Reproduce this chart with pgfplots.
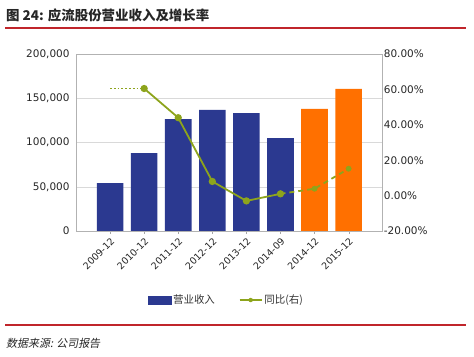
\documentclass[border=0pt]{standalone}
\usepackage{pgfplots}
\pgfplotsset{compat=1.18}
\usepackage{fontspec}
\setmainfont{DejaVu Sans}
\newfontfamily\cjk{Noto Sans CJK SC}
\newfontfamily\cjkit[FakeSlant=0.2]{Noto Sans CJK SC}
\definecolor{navy}{HTML}{2B3990}
\definecolor{orng}{HTML}{FF7000}
\definecolor{olive}{HTML}{8DA41C}
\definecolor{redline}{HTML}{C0252B}
\begin{document}
\begin{tikzpicture}
\path[use as bounding box] (0bp,0bp) rectangle (474bp,357bp);
\draw[redline, line width=1.2bp] (5bp,329bp) -- (466bp,329bp);
\node[anchor=west, inner sep=0pt, font=\cjk\bfseries\fontsize{13.5}{15}\selectfont, text=black!85] at (6bp,342bp) {图 24: 应流股份营业收入及增长率};
\draw[redline, line width=1.2bp] (5bp,32bp) -- (466bp,32bp);
\node[anchor=west, inner sep=0pt, font=\cjkit\fontsize{11}{13}\selectfont, text=black!85] at (6bp,14bp) {数据来源: 公司报告};

\begin{axis}[
  at={(76bp,126bp)}, anchor=south west, scale only axis,
  width=306.7bp, height=177bp,
  xmin=-1, xmax=8, ymin=0, ymax=200000,
  xtick={0,...,7},
  xticklabels={2009-12,2010-12,2011-12,2012-12,2013-12,2014-09,2014-12,2015-12},
  xticklabel style={rotate=45, anchor=north east, font=\fontsize{9.5}{10}\selectfont, text=black!85, inner sep=2bp},
  ytick={0,50000,100000,150000,200000},
  yticklabels={0,{50,000},{100,000},{150,000},{200,000}},
  yticklabel style={font=\fontsize{10.5}{12}\selectfont, text=black!85},
  scaled y ticks=false,
  ymajorgrids, grid style={gray!30},
  axis line style={gray!60},
  tick style={gray!70}, tick align=outside, major tick length=3bp,
  ytick style={draw=none},
  xtick pos=bottom,
  ybar, bar width=0.78, bar shift=0pt,
]
\addplot[fill=navy, draw=none] coordinates {(0,54000)(1,87900)(2,126400)(3,136900)(4,133100)(5,104900)};
\addplot[fill=orng, draw=none] coordinates {(6,138000)(7,160600)};
\end{axis}

\begin{axis}[
  at={(76bp,126bp)}, anchor=south west, scale only axis,
  width=306.7bp, height=177bp,
  xmin=-1, xmax=8, ymin=-20, ymax=80,
  axis y line*=right, axis x line=none,
  ytick={-20,0,20,40,60,80},
  yticklabels={-20.00\%,0.00\%,20.00\%,40.00\%,60.00\%,80.00\%},
  yticklabel style={font=\fontsize{10.5}{12}\selectfont, text=black!85, inner sep=1bp},
  ytick style={draw=none}, axis line style={gray!60},
  legend style={at={(0.49,-0.39)}, anchor=center, draw=none, fill=none,
    legend columns=2, font=\cjk\fontsize{10.5}{12}\selectfont, text=black!80,
    /tikz/every even column/.append style={column sep=22bp}},
]
\addlegendimage{legend image code/.code={\fill[navy] (0bp,-4bp) rectangle (23bp,4bp);}}
\addlegendentry{营业收入}
\addlegendimage{legend image code/.code={\draw[olive, line width=1.5bp] (0bp,0bp) -- (22bp,0bp); \fill[olive] (11bp,0bp) circle (2bp);}}
\addlegendentry{同比(右)}
\addplot[olive, line width=1.8bp, dotted, forget plot] coordinates {(0,60.5)(1,60.5)};
\addplot[olive, line width=1.8bp, mark=*, mark size=2.7bp, forget plot] coordinates {(1,60.5)(2,44)(3,8)(4,-3)(5,1)};
\addplot[olive, line width=1.8bp, dash pattern=on 5bp off 4bp, forget plot] coordinates {(5,1)(6,3.9)(7,15.2)};
\addplot[only marks, olive, mark=*, mark size=2.7bp, forget plot] coordinates {(6,3.9)(7,15.2)};
\end{axis}
\end{tikzpicture}
\end{document}
